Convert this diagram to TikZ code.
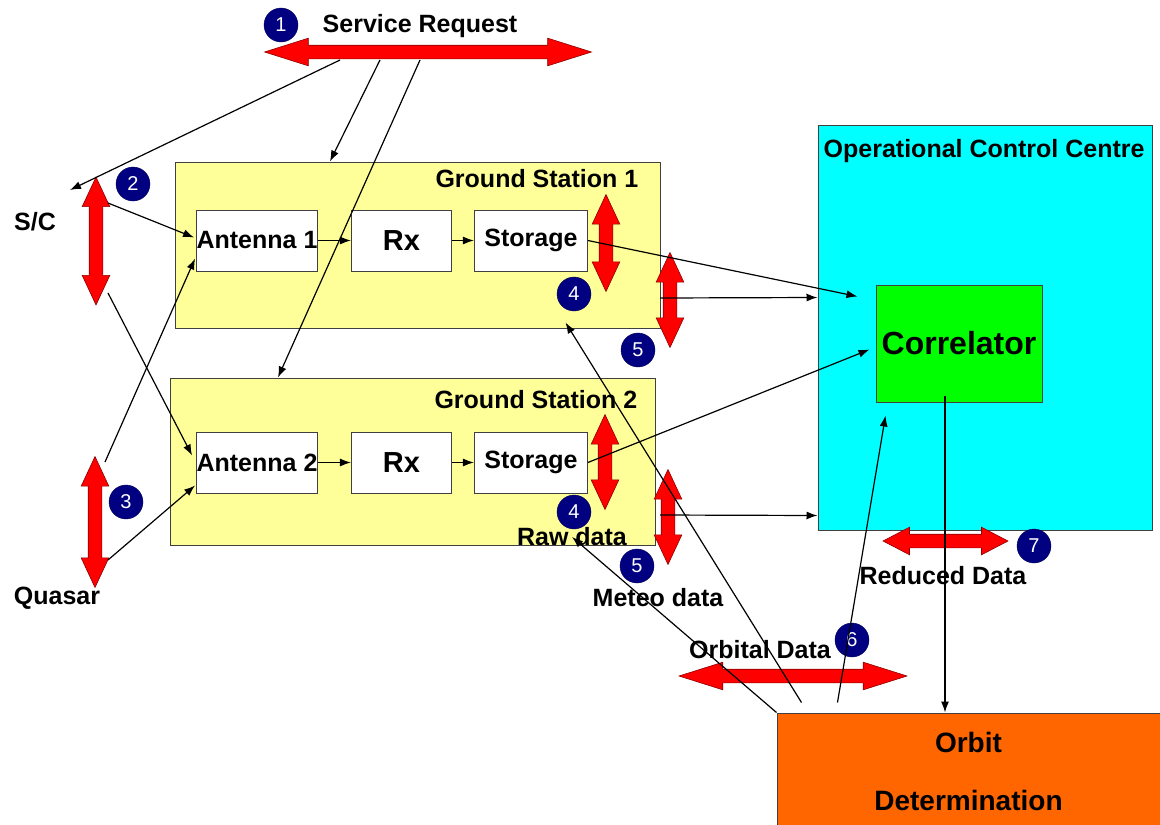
\documentclass[tikz,border=0pt]{standalone}
\usepackage{fontspec}
\setmainfont{Liberation Sans}
\usetikzlibrary{calc,positioning,shapes.arrows,arrows.meta}

\definecolor{gsyellow}{RGB}{255,255,153}
\definecolor{occcyan}{RGB}{0,255,255}
\definecolor{corrgreen}{RGB}{0,255,0}
\definecolor{odorange}{RGB}{255,102,0}
\definecolor{numblue}{RGB}{0,0,128}

\begin{document}
\begin{tikzpicture}[x=1pt,y=-1pt,
  font=\fontsize{25}{28}\selectfont\bfseries,
  box/.style={draw=black!75, line width=1pt, inner sep=0pt},
  inbox/.style={box, fill=white, minimum width=120, minimum height=61},
  txt/.style={inner sep=0pt},
  num/.style={circle, fill=numblue, draw=numblue!70!black, text=white, minimum size=34, inner sep=0pt, font=\fontsize{20}{20}\selectfont},
  redarr/.style={double arrow, fill=red, draw=red!55!black, line width=.6pt, inner sep=6.5pt, minimum width=0pt, double arrow head extend=7pt},
  link/.style={-{Latex[length=11pt,width=8pt]}, line width=1.2pt}]
\useasboundingbox (0,0) rectangle (1160,825);
\clip (0,0) rectangle (1160,825);
% containers
\node[box, fill=gsyellow, minimum width=485, minimum height=166] (gs1) at (417.5,245) {};
\node[box, fill=gsyellow, minimum width=485, minimum height=167] (gs2) at (412.5,461.5) {};
\node[box, fill=occcyan, minimum width=334, minimum height=405] (occ) at (985,327.5) {};
\node[box, fill=corrgreen, minimum width=166, minimum height=117, font=\fontsize{32}{36}\selectfont\bfseries] (corr) at (959,343.5) {Correlator};
\node[box, fill=odorange, minimum width=383, minimum height=116, align=center, font=\fontsize{28}{58}\selectfont\bfseries] (od) at (968.5,771) {Orbit\\Determination};
\node[txt, anchor=east] at ($(gs1.north east)+(-22,17)$) {Ground Station 1};
\node[txt, anchor=east] at ($(gs2.north east)+(-18,22)$) {Ground Station 2};
\node[txt, anchor=west] at ($(occ.north west)+(6,27)$) {Operational Control Centre};
% station 1
\node[inbox] (ant1) at (257,240.5) {Antenna 1};
\node[inbox, minimum width=100, right=33pt of ant1, font=\fontsize{29}{32}\selectfont\bfseries] (rx1) {Rx};
\node[inbox, minimum width=113, right=22pt of rx1] (st1) {Storage};
% station 2
\node[inbox] (ant2) at (257,462.5) {Antenna 2};
\node[inbox, minimum width=100, right=33pt of ant2, font=\fontsize{29}{32}\selectfont\bfseries] (rx2) {Rx};
\node[inbox, minimum width=113, right=22pt of rx2] (st2) {Storage};
% red double arrows
\node[redarr, minimum height=327, double arrow tip angle=35] (sr) at (428,52) {};
\node[redarr, minimum height=128, double arrow tip angle=50, rotate=90] (scarr) at (96,241) {};
\node[redarr, minimum height=131, double arrow tip angle=50, rotate=90] (qarr) at (95,522) {};
\node[redarr, minimum height=97, double arrow tip angle=50, rotate=90] (g1arr) at (606,243) {};
\node[redarr, minimum height=95, double arrow tip angle=50, rotate=90] (a5a) at (670,300) {};
\node[redarr, minimum height=95, double arrow tip angle=50, rotate=90] (g2arr) at (605,462) {};
\node[redarr, minimum height=95, double arrow tip angle=50, rotate=90] (a5b) at (668,517) {};
\node[redarr, minimum height=125, double arrow tip angle=55] (r7) at (945.5,541) {};
\node[redarr, minimum height=228, double arrow tip angle=35] (r6) at (793,676) {};
% numbers
\node[num] (c1) at (281,25) {1};
\node[num] (c2) at (133,184) {2};
\node[num] (c3) at (126,502) {3};
\node[num] (c4a) at (574,294) {4};
\node[num] (c5a) at (638,350) {5};
\node[num] (c4b) at (574,512) {4};
\node[num] (c5b) at (637,566) {5};
\node[num] (c6) at (852,640) {6};
\node[num] (c7) at (1034,546) {7};
% labels
\node[txt] (req) at (420,26) {Service Request};
\node[txt] (sc) at (35,222) {S/C};
\node[txt] (quasar) at (57,598) {Quasar};
\node[txt] (raw) at (572,537) {Raw data};
\node[txt] (meteo) at (658,598) {Meteo data};
\node[txt] (orbital) at (760,650) {Orbital Data};
\node[txt] (reduced) at (943,576) {Reduced Data};
\coordinate (sctip) at (70,190);
% connectors
\draw[link] ($(sr.center)+(-88,8)$) -- (sctip);
\draw[link] ($(sr.center)+(-48,8)$) -- ($(gs1.north)+(-87.5,0)$);
\draw[link] ($(sr.center)+(-8,8)$) -- ($(gs2.north)+(-134.5,0)$);
\draw[link] ($(scarr.center)+(12,-38)$) -- ($(ant1.west)+(-2,-3)$);
\draw[link] ($(scarr.center)+(12,52)$) -- ($(ant2.west)+(-4,-7)$);
\draw[link] ($(qarr.center)+(10,-60)$) -- ($(ant1.south west)+(-1,-13)$);
\draw[link] ($(qarr.center)+(13,38)$) -- ($(ant2.south west)+(-1,-8)$);
\draw[link] (ant1) -- (rx1);
\draw[link] (rx1) -- (st1);
\draw[link] (ant2) -- (rx2);
\draw[link] (rx2) -- (st2);
\draw[link] (st1.east) -- ($(corr.north west)+(-18,12)$);
\draw[link] ($(a5a.center)+(-10,-2)$) -- ($(occ.west)+(0,-30)$);
\draw[link] (st2.east) -- ($(corr.west)+(-6,6)$);
\draw[link] ($(a5b.center)+(-8,-2)$) -- ($(occ.south west)+(0,-15)$);
\draw[link] ($(corr.south)+(-14,-7)$) -- ($(od.north)+(-23.5,0)$);
\draw[link] (od.north west) -- (raw.center);
\draw[link] ($(od.north west)+(25,-10)$) -- ($(gs1.south east)+(-95,-6)$);
\draw[link] ($(od.north west)+(61,-10)$) -- ($(corr.south west)+(10,13)$);
\end{tikzpicture}
\end{document}
